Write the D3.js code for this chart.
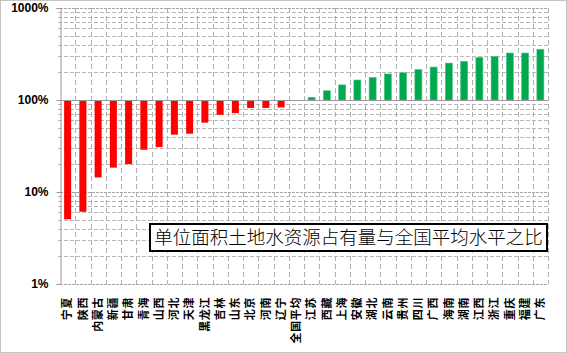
<!DOCTYPE html>
<html>
<head>
<meta charset="utf-8">
<script src="https://cdn.jsdelivr.net/npm/d3@7"></script>
<style>
  body { margin: 0; background: #fff; }
  svg { display: block; }
</style>
</head>
<body>
<script>
// provinces, ordered as in the chart
const provinces = ["宁夏","陕西","内蒙古","新疆","甘肃","青海","山西","河北","天津","黑龙江","吉林","山东","北京","河南","辽宁","全国平均",
  "江苏","西藏","上海","安徽","湖北","云南","贵州","四川","广西","海南","湖南","江西","浙江","重庆","福建","广东"]
// ratio to the national average, in %
const ratios = [5.05, 6.1, 14.4, 18.4, 20.1, 28.8, 30.8, 42, 43, 56.7, 69, 72, 82, 82, 83, 100,
  107, 126, 146, 165, 176, 192, 198, 214, 228, 252, 263, 291, 298, 324, 324, 356]
const yTicks = [1, 10, 100, 1000]
const title = "单位面积土地水资源占有量与全国平均水平之比"

const width = 567
const height = 353
const plotLeft = 60, plotRight = 548, plotTop = 8, plotBottom = 284

const data = provinces.map((p, i) => ({ name: p, value: ratios[i] }))

const x = d3.scaleBand(provinces, [plotLeft, plotRight]).paddingInner(0.54).paddingOuter(0.27)
const y = d3.scaleLog([1, 1000], [plotBottom, plotTop])

const svg = d3.select("body").append("svg")
  .attr("width", width)
  .attr("height", height)

// outer frame
svg.append("rect")
  .attr("x", 0.5).attr("y", 0.5)
  .attr("width", width - 1).attr("height", height - 1)
  .attr("fill", "none").attr("stroke", "#888").attr("stroke-dasharray", "1,1")

// minor horizontal grid
const minor = []
for (let k = 1; k < 1000; k *= 10) for (let m = 2; m < 10; m++) minor.push(k * m)
svg.append("g").selectAll("line").data(minor).join("line")
  .attr("x1", plotLeft - 2).attr("x2", plotRight)
  .attr("y1", d => Math.round(y(d)) + 0.5).attr("y2", d => Math.round(y(d)) + 0.5)
  .attr("stroke", "#b8b8b8").attr("stroke-dasharray", "4,2")

// vertical grid at category boundaries
const bounds = d3.range(provinces.length + 1).map(i => plotLeft + i * (plotRight - plotLeft) / provinces.length)
svg.append("g").selectAll("line").data(bounds.slice(1)).join("line")
  .attr("x1", d => Math.round(d) + 0.5).attr("x2", d => Math.round(d) + 0.5)
  .attr("y1", plotTop).attr("y2", plotBottom)
  .attr("stroke", "#b0b0b0").attr("stroke-dasharray", "5,3")

// major horizontal grid
svg.append("g").selectAll("line").data(yTicks).join("line")
  .attr("x1", plotLeft).attr("x2", plotRight)
  .attr("y1", d => Math.round(y(d)) + 0.5).attr("y2", d => Math.round(y(d)) + 0.5)
  .attr("stroke", "#a6a6a6").attr("stroke-dasharray", d => d == 100 ? null : "3,1")

// bars grow from 100%
svg.append("g").selectAll("rect").data(data.filter(d => d.value != 100)).join("rect")
  .attr("x", d => x(d.name))
  .attr("width", x.bandwidth())
  .attr("y", d => Math.min(y(d.value), y(100)))
  .attr("height", d => Math.abs(y(d.value) - y(100)))
  .attr("fill", d => d.value < 100 ? "#ff0000" : "#00a84f")
  .attr("stroke", d => d.value < 100 ? "none" : "#4fc47f")
  .attr("stroke-width", 0.6)

// baseline at 100%
svg.append("line")
  .attr("x1", plotLeft).attr("x2", plotRight)
  .attr("y1", Math.round(y(100)) + 0.5).attr("y2", Math.round(y(100)) + 0.5)
  .attr("stroke", "#999")

// y axis
const yAxis = d3.axisLeft(y).tickValues(yTicks).tickFormat(d => d + "%").tickSize(4).tickPadding(8)
const gy = svg.append("g")
  .attr("transform", `translate(${plotLeft + 0.5},0)`)
  .call(yAxis)
gy.select(".domain").attr("stroke", "#999")
gy.selectAll(".tick line").attr("stroke", "#999")
gy.selectAll("text")
  .attr("font-family", "Liberation Sans, Arial, sans-serif")
  .attr("font-size", 12).attr("font-weight", "bold").attr("fill", "#000")

// category labels, rotated
svg.append("g").selectAll("text").data(provinces).join("text")
  .attr("transform", d => `translate(${x(d) + x.bandwidth() / 2},297) rotate(-90)`)
  .attr("text-anchor", "end")
  .attr("dy", "0.35em")
  .attr("font-family", "Noto Sans CJK SC")
  .attr("font-size", 11)
  .attr("font-weight", "bold")
  .attr("letter-spacing", 0.6)
  .attr("fill", "#000")
  .text(d => d)

// title box
svg.append("rect")
  .attr("x", 150).attr("y", 224).attr("width", 397).attr("height", 27)
  .attr("fill", "#fff").attr("stroke", "#000").attr("stroke-width", 2)
svg.append("text")
  .attr("x", 348.5).attr("y", 238)
  .attr("text-anchor", "middle").attr("dy", "0.35em")
  .attr("font-family", "Noto Sans CJK SC")
  .attr("font-size", 18.5)
  .attr("font-weight", 300)
  .attr("fill", "#000")
  .text(title)
</script>
</body>
</html>
